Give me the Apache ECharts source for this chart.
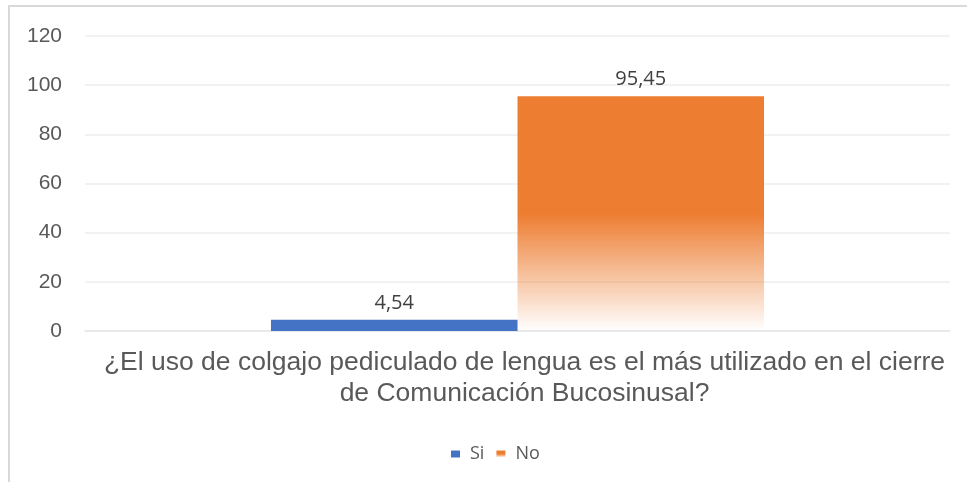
<!DOCTYPE html>
<html>
<head>
<meta charset="utf-8">
<script src="https://cdn.jsdelivr.net/npm/echarts@6/dist/echarts.min.js"></script>
<style>
  html, body { margin: 0; padding: 0; background: #fff; }
  #chart { width: 967px; height: 482px; }
</style>
</head>
<body>
<div id="chart"></div>
<script>
const categories = ["¿El uso de colgajo pediculado de lengua es el más utilizado en el cierre\nde Comunicación Bucosinusal?"];
const siValues = [4.54];
const noValues = [95.45];
const yTicks = { min: 0, max: 120, interval: 20 };

const chart = echarts.init(document.getElementById("chart"));

const labelStyle = {
  show: true,
  position: "top",
  distance: 7,
  color: "#404040",
  fontSize: 20,
  fontFamily: "Open Sans",
  formatter: (p) => String(p.value).replace(".", ",")
};

chart.setOption({
  animation: false,
  graphic: [
    {
      type: "polyline",
      shape: { points: [[9, 482], [9, 6], [967, 6]] },
      style: { stroke: "#d9d9d9", lineWidth: 2, fill: null }
    }
  ],
  grid: { left: 85, right: 17, top: 36, bottom: 151 },
  legend: {
    bottom: 14,
    left: 446,
    itemWidth: 9,
    itemHeight: 7,
    itemGap: 12,
    icon: "rect",
    textStyle: { color: "#595959", fontSize: 18, fontFamily: "Open Sans", padding: [0, 0, 0, 5] },
    data: ["Si", "No"]
  },
  xAxis: {
    type: "category",
    data: categories,
    axisTick: { show: false },
    axisLine: { lineStyle: { color: "#e6e6e6", width: 1.5 } },
    axisLabel: {
      color: "#595959",
      fontSize: 26.5,
      fontFamily: "Liberation Sans",
      lineHeight: 31,
      margin: 16,
      padding: [0, 0, 0, 14]
    }
  },
  yAxis: {
    type: "value",
    min: yTicks.min,
    max: yTicks.max,
    interval: yTicks.interval,
    axisLine: { show: false },
    axisTick: { show: false },
    splitLine: { lineStyle: { color: "#eeeeee", width: 1.5 } },
    axisLabel: {
      color: "#595959",
      fontSize: 21,
      fontFamily: "Liberation Sans",
      margin: 23
    }
  },
  series: [
    {
      name: "Si",
      type: "bar",
      data: siValues,
      barGap: "0%",
      barCategoryGap: "43%",
      itemStyle: { color: "#4472c4" },
      label: labelStyle
    },
    {
      name: "No",
      type: "bar",
      data: noValues,
      barGap: "0%",
      barCategoryGap: "43%",
      itemStyle: {
        color: {
          type: "linear",
          x: 0, y: 0, x2: 0, y2: 1,
          colorStops: [
            { offset: 0, color: "#ed7d31" },
            { offset: 0.5, color: "#ed7d31" },
            { offset: 1, color: "rgba(237,125,49,0)" }
          ]
        }
      },
      label: labelStyle
    }
  ]
});
</script>
</body>
</html>
